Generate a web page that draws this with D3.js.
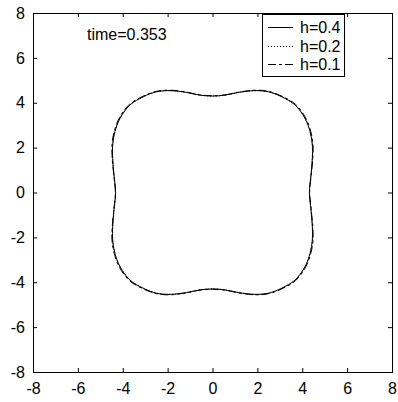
<!DOCTYPE html>
<html><head><meta charset="utf-8">
<script src="https://cdn.jsdelivr.net/npm/d3@7"></script>
<style>body{margin:0;background:#fff}svg{display:block}text{font-family:"Liberation Sans",Arial,sans-serif;fill:#000}</style>
</head><body>
<script>
const xTicks=[-8,-6,-4,-2,0,2,4,6,8];
const yTicks=[-8,-6,-4,-2,0,2,4,6,8];
const seriesNames=["h=0.4","h=0.2","h=0.1"];
const timeLabel="time=0.353";
// first-quadrant points of each interface, mirrored to the other quadrants
const quadX_04=[0,0.56,1.15,1.89,2.49,3.08,3.68,4.12,4.35,4.45,4.45,4.39,4.32];
const quadY_04=[4.30,4.34,4.46,4.54,4.49,4.27,3.90,3.31,2.71,2.12,1.52,0.78,0];
const quadX_02=[0,0.56,1.15,1.89,2.49,3.08,3.68,4.12,4.35,4.45,4.45,4.39,4.32];
const quadY_02=[4.30,4.34,4.46,4.54,4.49,4.27,3.90,3.31,2.71,2.12,1.52,0.78,0];
const quadX_01=[0,0.56,1.15,1.89,2.49,3.10,3.71,4.15,4.38,4.48,4.47,4.40,4.33];
const quadY_01=[4.31,4.35,4.47,4.56,4.51,4.29,3.92,3.33,2.72,2.13,1.52,0.78,0];
const dashes=[null,"1,2","8,3,3,3"];

const W=398,H=402,m={l:33,r:6,t:13,b:30};
const x=d3.scaleLinear().domain([-8,8]).range([m.l,W-m.r]);
const y=d3.scaleLinear().domain([-8,8]).range([H-m.b,m.t]);
const svg=d3.select("body").append("svg").attr("width",W).attr("height",H);
svg.append("rect").attr("width",W).attr("height",H).attr("fill","#fff");

function fullLoop(qx,qy){
  const q1=qx.map((v,i)=>[v,qy[i]]);
  const q4=q1.slice().reverse().map(p=>[p[0],-p[1]]);
  const q3=q1.map(p=>[-p[0],-p[1]]);
  const q2=q1.slice().reverse().map(p=>[-p[0],p[1]]);
  return [...q1,...q4.slice(1),...q3.slice(1),...q2.slice(1,-1)];
}
const series=[fullLoop(quadX_04,quadY_04),fullLoop(quadX_02,quadY_02),fullLoop(quadX_01,quadY_01)];
const line=d3.line().x(d=>x(d[0])).y(d=>y(d[1])).curve(d3.curveCatmullRomClosed.alpha(0.5));

const fmt=d=>d<0?"-"+Math.abs(d):String(d);
const fs="16px";
const gB=svg.append("g").attr("transform",`translate(0,${H-m.b})`)
  .call(d3.axisBottom(x).tickValues(xTicks).tickFormat(fmt).tickSize(-4).tickPadding(11));
const gL=svg.append("g").attr("transform",`translate(${m.l},0)`)
  .call(d3.axisLeft(y).tickValues(yTicks).tickFormat(fmt).tickSize(-4).tickPadding(8));
const gT=svg.append("g").attr("transform",`translate(0,${m.t})`)
  .call(d3.axisTop(x).tickValues(xTicks).tickFormat("").tickSize(-4));
const gR=svg.append("g").attr("transform",`translate(${W-m.r},0)`)
  .call(d3.axisRight(y).tickValues(yTicks).tickFormat("").tickSize(-4));
[gB,gL,gT,gR].forEach(g=>{
  g.select(".domain").remove();
  g.selectAll("line").attr("stroke","#000");
  g.selectAll("text").attr("font-size",fs).attr("font-family",'"Liberation Sans",Arial,sans-serif').attr("fill","#000");
});
svg.append("rect").attr("x",m.l).attr("y",m.t).attr("width",W-m.r-m.l).attr("height",H-m.b-m.t)
  .attr("fill","none").attr("stroke","#000").attr("stroke-width",1).attr("shape-rendering","crispEdges");

series.forEach((s,i)=>{
  svg.append("path").attr("d",line(s)).attr("fill","none").attr("stroke","#000")
    .attr("stroke-width",1).attr("stroke-dasharray",dashes[i]);
});

svg.append("text").attr("x",87).attr("y",40).attr("font-size",fs).text(timeLabel);

const lg=svg.append("g");
lg.append("rect").attr("x",262.5).attr("y",14.5).attr("width",82).attr("height",62)
  .attr("fill","#fff").attr("stroke","#000").attr("stroke-width",1);
const rows=[27,46,64];
seriesNames.forEach((n,i)=>{
  lg.append("line").attr("x1",268).attr("x2",293).attr("y1",rows[i]+0.5).attr("y2",rows[i]+0.5)
    .attr("stroke","#000").attr("stroke-width",1).attr("stroke-dasharray",dashes[i]);
  lg.append("text").attr("x",300).attr("y",rows[i]).attr("dy","0.35em").attr("font-size",fs).text(n);
});
</script>
</body></html>
